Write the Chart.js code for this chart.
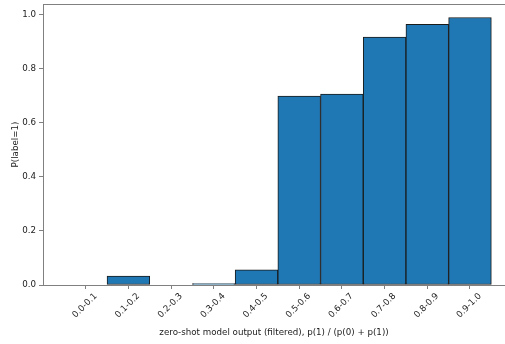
<!DOCTYPE html>
<html>
<head>
    <script src="https://cdn.jsdelivr.net/npm/chart.js"></script>
    <style>
        body { margin: 0; background: #fff; }
        .chart-container { width: 505px; height: 344px; }
    </style>
</head>
<body>
    <div class="chart-container">
        <canvas id="binChart"></canvas>
    </div>

    <script>
        // bins of the zero-shot output and the share of label=1 in each bin
        const binLabels = ['0.0-0.1', '0.1-0.2', '0.2-0.3', '0.3-0.4', '0.4-0.5',
                           '0.5-0.6', '0.6-0.7', '0.7-0.8', '0.8-0.9', '0.9-1.0'];
        const binIndex = [0, 1, 2, 3, 4, 5, 6, 7, 8, 9];
        const positiveRate = [0, 0.033, 0, 0.005, 0.056, 0.699, 0.707, 0.918, 0.965, 0.990];
        const yTicks = [0, 0.2, 0.4, 0.6, 0.8, 1.0];

        const spineColor = '#808080';
        const textColor = '#1a1a1a';
        const font = { family: 'DejaVu Sans', size: 8.7 };

        // matplotlib style top spine
        const topSpine = {
            id: 'topSpine',
            afterDraw(chart) {
                const { ctx, chartArea } = chart;
                ctx.save();
                ctx.strokeStyle = spineColor;
                ctx.lineWidth = 1;
                ctx.beginPath();
                ctx.moveTo(chartArea.left, chartArea.top + 0.5);
                ctx.lineTo(chartArea.right, chartArea.top + 0.5);
                ctx.stroke();
                ctx.restore();
            }
        };

        const ctx = document.getElementById('binChart').getContext('2d');
        const binChart = new Chart(ctx, {
            type: 'bar',
            data: {
                datasets: [{
                    data: binIndex.map((x, i) => ({ x: x, y: positiveRate[i] })),
                    backgroundColor: '#1f77b4',
                    borderColor: '#1a1a1a',
                    borderWidth: 1,
                    borderSkipped: false,
                    categoryPercentage: 1.0,
                    barPercentage: 1.0
                }]
            },
            options: {
                responsive: true,
                maintainAspectRatio: false,
                animation: false,
                layout: { padding: { top: 4, right: 0, left: 0, bottom: 0 } },
                plugins: {
                    legend: { display: false },
                    tooltip: { enabled: false }
                },
                scales: {
                    x: {
                        type: 'linear',
                        offset: false,
                        min: -1,
                        max: 9.82,
                        afterBuildTicks: (scale) => {
                            scale.ticks = binIndex.map(v => ({ value: v }));
                        },
                        afterFit: (scale) => {
                            scale.height = 59;
                            scale.paddingLeft = 0;
                            scale.paddingRight = 0;
                        },
                        grid: {
                            display: true,
                            offset: false,
                            drawOnChartArea: false,
                            drawTicks: true,
                            tickLength: 4,
                            tickColor: spineColor
                        },
                        border: { display: true, color: spineColor, width: 1 },
                        ticks: {
                            autoSkip: false,
                            minRotation: 45,
                            maxRotation: 45,
                            labelOffset: 10,
                            padding: 2,
                            color: textColor,
                            font: font,
                            callback: (v) => binLabels[v]
                        },
                        title: {
                            display: true,
                            text: 'zero-shot model output (filtered), p(1) / (p(0) + p(1))',
                            color: textColor,
                            font: font,
                            padding: { top: 0, bottom: 6 }
                        }
                    },
                    y: {
                        min: 0,
                        max: 1.04,
                        afterBuildTicks: (scale) => {
                            scale.ticks = yTicks.map(v => ({ value: v }));
                        },
                        afterFit: (scale) => {
                            scale.width = 43;
                            scale.paddingTop = 0;
                            scale.paddingBottom = 0;
                        },
                        grid: {
                            display: true,
                            drawOnChartArea: false,
                            drawTicks: true,
                            tickLength: 4,
                            tickColor: spineColor
                        },
                        border: { display: true, color: spineColor, width: 1 },
                        ticks: {
                            padding: 3,
                            color: textColor,
                            font: font,
                            callback: (v) => v.toFixed(1)
                        },
                        title: {
                            display: true,
                            text: 'P(label=1)',
                            color: textColor,
                            font: font,
                            padding: { top: 11, bottom: 0 }
                        }
                    }
                }
            },
            plugins: [topSpine]
        });
    </script>
</body>
</html>
